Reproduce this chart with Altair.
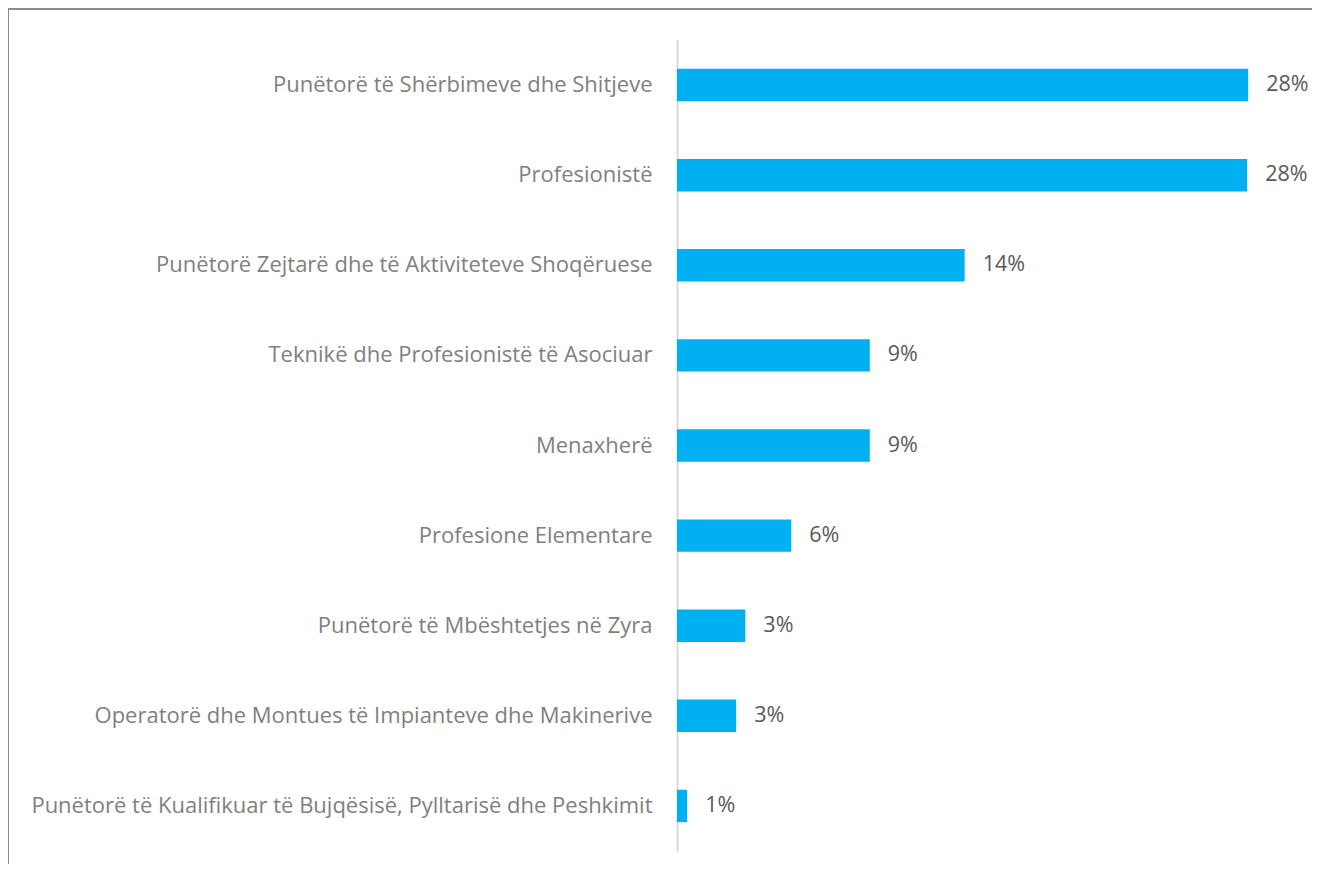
import altair as alt
import pandas as pd

categories = [
    "Punëtorë të Shërbimeve dhe Shitjeve",
    "Profesionistë",
    "Punëtorë Zejtarë dhe të Aktiviteteve Shoqëruese",
    "Teknikë dhe Profesionistë të Asociuar",
    "Menaxherë",
    "Profesione Elementare",
    "Punëtorë të Mbështetjes në Zyra",
    "Operatorë dhe Montues të Impianteve dhe Makinerive",
    "Punëtorë të Kualifikuar të Bujqësisë, Pylltarisë dhe Peshkimit",
]
values = [28.0, 27.95, 14.1, 9.45, 9.45, 5.6, 3.35, 2.9, 0.5]
labels = ["28%", "28%", "14%", "9%", "9%", "6%", "3%", "3%", "1%"]

df = pd.DataFrame({"cat": categories, "val": values, "lab": labels})

FONT = "Open Sans"
PLOT_W = 612
PLOT_H = 811

y_enc = alt.Y(
    "cat:N",
    sort=categories,
    scale=alt.Scale(paddingInner=0.64, paddingOuter=0.32),
    axis=alt.Axis(
        title=None,
        ticks=False,
        domain=True,
        domainColor="#D9D9D9",
        domainWidth=2,
        labelFont=FONT,
        labelFontSize=22,
        labelColor="#7F7F7F",
        labelPadding=25,
        labelLimit=700,
        grid=False,
    ),
)
x_enc = alt.X("val:Q", scale=alt.Scale(domain=[0, 30]), axis=None)

bars = alt.Chart(df).mark_bar(color="#00B0F0").encode(x=x_enc, y=y_enc)

text = alt.Chart(df).mark_text(
    align="left", baseline="middle", dx=18, font=FONT, fontSize=21.5, color="#595959"
).encode(x=x_enc, y=alt.Y("cat:N", sort=categories), text="lab:N")

border_top = alt.Chart(df).mark_rule(color="#8C8C8C", strokeWidth=1).encode(
    x=alt.value(-668.5), x2=alt.value(PLOT_W + 40), y=alt.value(-31)
)
border_left = alt.Chart(df).mark_rule(color="#8C8C8C", strokeWidth=1).encode(
    x=alt.value(-668.5), y=alt.value(-31), y2=alt.value(PLOT_H + 40)
)

chart = (
    alt.layer(bars, text, border_top, border_left)
    .properties(
        width=PLOT_W,
        height=PLOT_H,
        padding={"left": 669, "top": 32, "right": 23, "bottom": 13},
        autosize=alt.AutoSizeParams(type="none"),
    )
    .configure_view(stroke=None)
)

chart.save("out.html", embed_options={"renderer": "svg", "actions": False})
